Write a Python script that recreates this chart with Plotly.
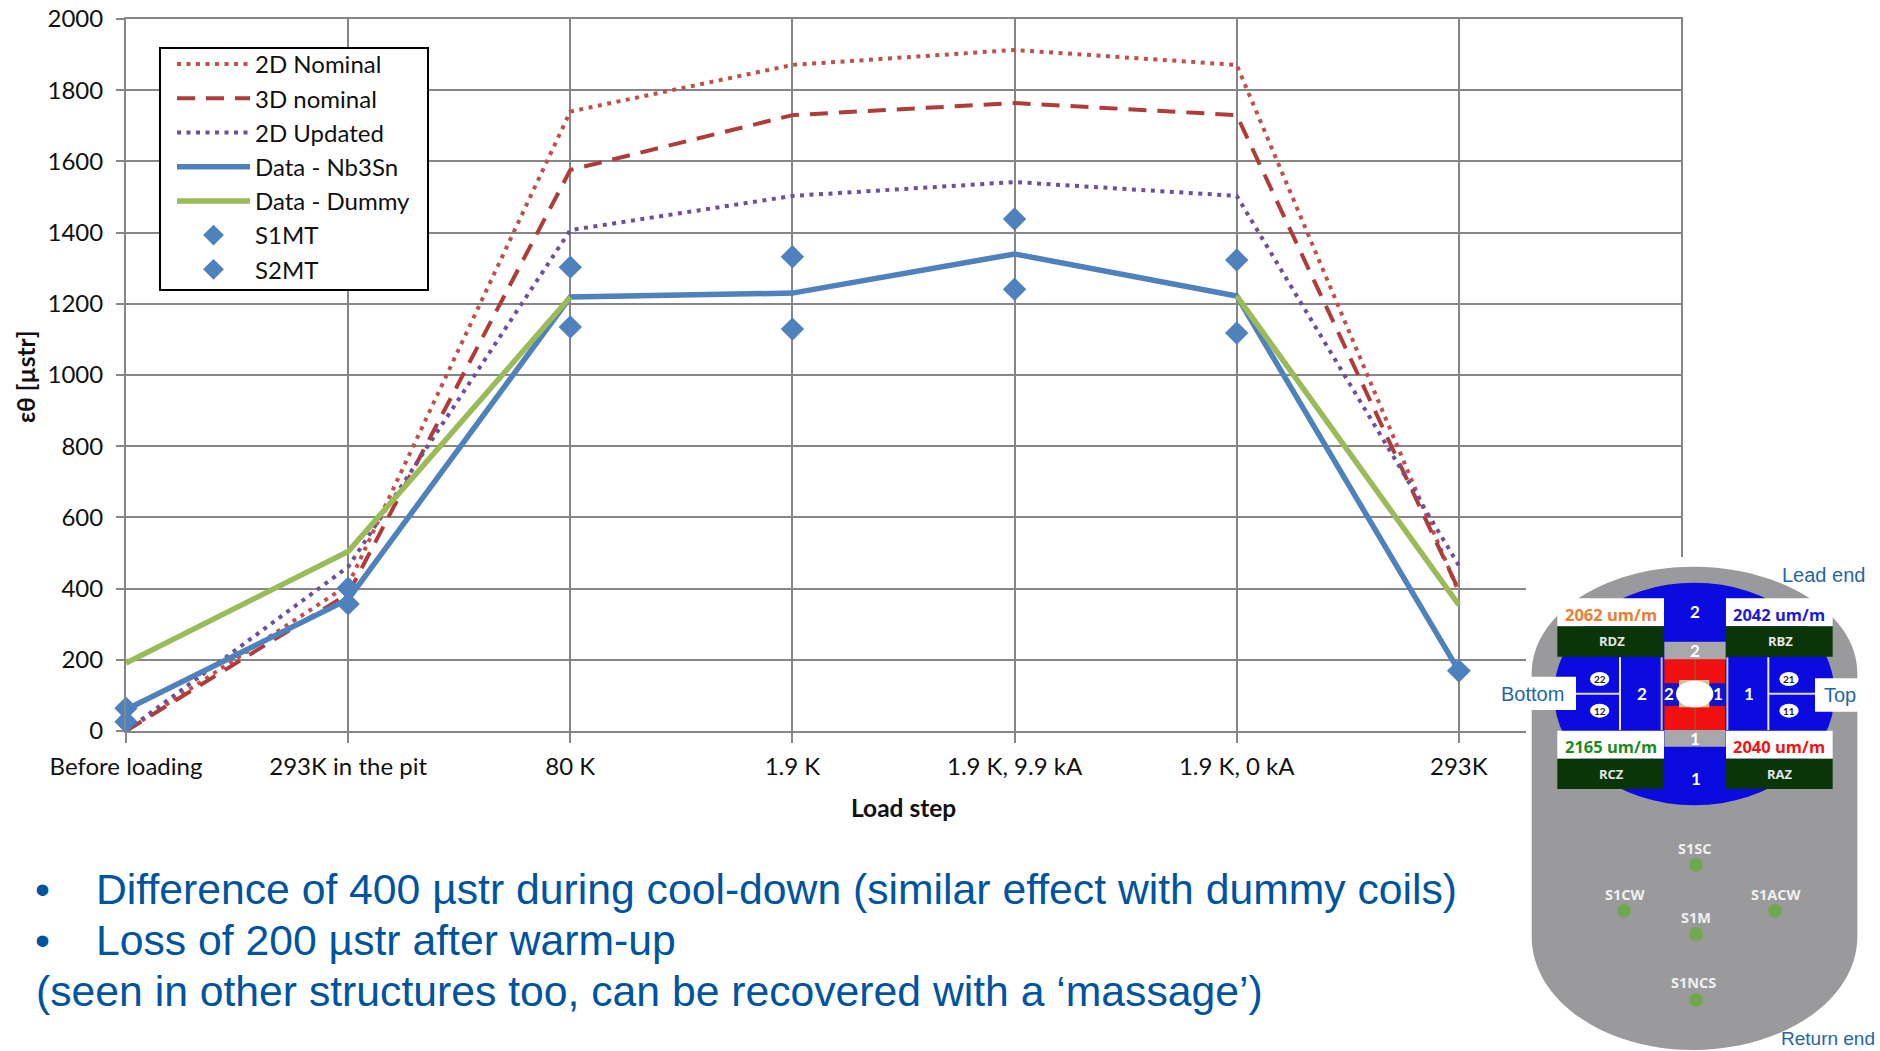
import plotly.graph_objects as go

# ---------- data ----------
load_steps = ["Before loading", "293K in the pit", "80 K", "1.9 K", "1.9 K, 9.9 kA", "1.9 K, 0 kA", "293K"]
step_pos = [0, 1, 2, 3, 4, 5, 6]
y_ticks = [0, 200, 400, 600, 800, 1000, 1200, 1400, 1600, 1800, 2000]

nominal_2d = [0, 410, 1740, 1871, 1913, 1871, 390]
nominal_3d = [0, 385, 1576, 1730, 1764, 1730, 395]
updated_2d = [0, 461, 1407, 1503, 1542, 1503, 465]
data_nb3sn = [60, 370, 1219, 1230, 1340, 1222, 169]
data_dummy = [191, 504, 1219, None, None, 1222, 354]
s1mt = [64, 401, 1303, 1332, 1438, 1323, 169]
s2mt = [26, 357, 1135, 1129, 1241, 1118, 169]

strain_labels = [("2062 um/m", "#ed7d31", "RDZ"), ("2042 um/m", "#1c1cd8", "RBZ"),
                 ("2165 um/m", "#1d8a1d", "RCZ"), ("2040 um/m", "#ee1515", "RAZ")]
gauges = ["S1SC", "S1CW", "S1ACW", "S1M", "S1NCS"]

bullets = ["Difference of 400 µstr during cool-down (similar effect with dummy coils)",
           "Loss of 200 µstr after warm-up"]
note = "(seen in other structures too, can be recovered with a ‘massage’)"

# ---------- layout helpers ----------
W, H = 1880, 1051
L, R, T, B = 126, 1681, 19, 731
FONT = "Lato"
ARIAL = "Liberation Sans"
BLUE_TXT = "#00549f"
GRID = "#868686"
INK = "#111111"

def X(px): return (px - L) / (R - L)
def Y(py): return (B - py) / (B - T)
# inset crop coordinates -> page pixels
def ix(v): return 1480 + v / 3
def iy(v): return 550 + v / 3

shapes, annots = [], []

def rect(x0, y0, x1, y1, color, line=None):
    shapes.append(dict(type="rect", xref="paper", yref="paper", layer="above",
                       x0=X(ix(x0)), x1=X(ix(x1)), y0=Y(iy(y0)), y1=Y(iy(y1)),
                       fillcolor=color, line=dict(width=0) if line is None else line))

def oval(x0, y0, x1, y1, color):
    shapes.append(dict(type="circle", xref="paper", yref="paper", layer="above",
                       x0=X(ix(x0)), x1=X(ix(x1)), y0=Y(iy(y0)), y1=Y(iy(y1)),
                       fillcolor=color, line=dict(width=0)))

def text(x, y, s, size, color, bold=False, family=FONT, anchor="center", **kw):
    annots.append(dict(xref="paper", yref="paper", x=X(x), y=Y(y), text=f"<b>{s}</b>" if bold else s,
                       showarrow=False, xanchor=anchor, yanchor="middle",
                       font=dict(size=size, color=color, family=family), **kw))

def itext(x, y, s, size, color, bold=False, family=FONT, anchor="center"):
    text(ix(x), iy(y), s, size, color, bold, family, anchor)

def P(x, y): return f"{X(ix(x)):.5f},{Y(iy(y)):.5f}"

# legend frame (the legend itself sits on top, transparent)
shapes.append(dict(type="rect", xref="paper", yref="paper", layer="above",
                   x0=X(160), x1=X(428), y0=Y(290), y1=Y(48),
                   fillcolor="white", line=dict(color="black", width=2)))
# white mask hiding the gridlines behind the inset
shapes.append(dict(type="rect", xref="paper", yref="paper", layer="above",
                   x0=X(1526), x1=X(1880), y0=Y(1051), y1=Y(557),
                   fillcolor="white", line=dict(width=0)))
# grey body
path = ("M " + P(155, 1160) + " L " + P(155, 370) +
        " C " + P(155, 194) + " " + P(370, 50) + " " + P(640, 50) +
        " C " + P(910, 50) + " " + P(1132, 194) + " " + P(1132, 370) +
        " L " + P(1132, 1160) +
        " C " + P(1132, 1348) + " " + P(910, 1500) + " " + P(640, 1500) +
        " C " + P(370, 1500) + " " + P(155, 1348) + " " + P(155, 1160) + " Z")
shapes.append(dict(type="path", xref="paper", yref="paper", layer="above", path=path,
                   fillcolor="#9a9a9c", line=dict(width=0)))
# blue yoke
oval(222, 98, 1064, 766, "#0b0be0")
# central grey bands, red pole and bore
rect(553, 275, 737, 330, "#a8a8aa")
rect(553, 540, 737, 590, "#a8a8aa")
rect(553, 328, 735, 540, "#f01010")
rect(553, 400, 735, 468, "#1414c8")
rect(643, 330, 647, 540, "#b05030")
rect(597, 390, 688, 472, "#cfc296")
oval(588, 392, 700, 472, "white")
# white separators in the yoke
for xs in (420, 545, 742, 865):
    rect(xs - 3, 322, xs + 3, 540, "#e8e8f4" if xs in (420, 865) else "#c8c8d8")
rect(222, 428, 420, 434, "#d8d8ec")
rect(865, 428, 1064, 434, "#d8d8ec")
# small gauge ovals
for cx, cy, lab in [(359, 387, "22"), (359, 482, "12"), (927, 387, "21"), (927, 482, "11")]:
    oval(cx - 29, cy - 21, cx + 29, cy + 21, "white")
    itext(cx, cy, lab, 10, "#222222", True)
for xs, lab in [(486, "2"), (806, "1")]:
    itext(xs, 431, lab, 17, "white", True)
for xs, ys, lab in [(645, 185, "2"), (645, 300, "2"), (645, 565, "1"), (647, 685, "1"),
                    (568, 431, "2"), (714, 431, "1")]:
    itext(xs, ys, lab, 17, "white", True)
# strain gauge cards
cards = [(232, 145), (738, 145), (232, 542), (738, 542)]
for (cx, cy), (val, col, lab) in zip(cards, strain_labels):
    rect(cx, cy, cx + 320, cy + 84, "white")
    rect(cx, cy + 84, cx + 320, cy + 175, "#0a3508")
    itext(cx + 160, cy + 48, val, 16.5, col, True, "Open Sans")
    itext(cx + 163, cy + 129, lab, 13, "#e6e6e6", True, "Open Sans")
# side label boxes
rect(40, 380, 288, 480, "white")
rect(1005, 385, 1155, 485, "white")
itext(157, 431, "Bottom", 20, "#1f66a8", family=ARIAL)
itext(1081, 436, "Top", 20, "#1f66a8", family=ARIAL)
itext(1030, 76, "Lead end", 20, "#1f66a8", family=ARIAL)
itext(1044, 1465, "Return end", 19, "#1f66a8", family=ARIAL)
# strain gauges on the outer shell
gauge_xy = [(645, 897, 648, 945), (437, 1032, 432, 1082), (888, 1033, 885, 1082),
            (648, 1103, 648, 1152), (640, 1298, 648, 1350)]
for name, (tx, ty, dx, dy) in zip(gauges, gauge_xy):
    itext(tx, ty, name, 14.5, "#f0f0f0", True, "Open Sans")
    oval(dx - 21, dy - 21, dx + 21, dy + 21, "#6fa84f")

# bullet text
for py, s in zip((889, 940), bullets):
    text(42, py, "•", 42.7, BLUE_TXT, family=ARIAL)
    text(94, py, s, 42.7, BLUE_TXT, family=ARIAL, anchor="left")
text(34, 991, note, 42.7, BLUE_TXT, family=ARIAL, anchor="left")

# axis titles
text(903, 807, "Load step", 24.5, INK, True)
text(25, 377, "εθ [µstr]", 24.5, INK, True, textangle=-90)

# ---------- traces ----------
fig = go.Figure()
def line_trace(name, y, color, dash, width):
    fig.add_trace(go.Scatter(x=step_pos, y=y, name=name, mode="lines", legendgroup=name, cliponaxis=False,
                             line=dict(color=color, width=width, dash=dash)))
def marker_trace(name, y):
    fig.add_trace(go.Scatter(x=step_pos, y=y, name=name, mode="markers", legendgroup=name, cliponaxis=False,
                             marker=dict(symbol="diamond", size=18, color="#4f81bd")))

line_trace("2D Nominal", nominal_2d, "#c0504d", "4px,5.5px", 4)
line_trace("3D nominal", nominal_3d, "#b03c3a", "18px,11px", 4)
line_trace("2D Updated", updated_2d, "#6f4f98", "4px,5.5px", 4)
line_trace("Data - Nb3Sn", data_nb3sn, "#4f81bd", None, 5.5)
line_trace("Data - Dummy", data_dummy, "#9bbb59", None, 5.5)
marker_trace("S1MT", s1mt)
marker_trace("S2MT", s2mt)

fig.update_layout(
    width=W, height=H, paper_bgcolor="white", plot_bgcolor="white",
    margin=dict(l=L, r=W - R, t=T, b=H - B, pad=0, autoexpand=False),
    font=dict(family=FONT, size=24, color=INK),
    shapes=shapes, annotations=annots,
    legend=dict(x=X(172), y=Y(42), xanchor="left", yanchor="top",
                bgcolor="rgba(0,0,0,0)", borderwidth=0,
                font=dict(size=24, family=FONT, color=INK),
                itemwidth=73, entrywidth=170, entrywidthmode="pixels",
                tracegroupgap=0, itemclick=False),
    xaxis=dict(range=[0, 7], tickmode="array", tickvals=step_pos + [7], ticktext=load_steps + [""],
               showgrid=True, gridcolor=GRID, gridwidth=2, zeroline=False, automargin=False,
               showline=True, linecolor=GRID, linewidth=2, mirror=True,
               ticks="outside", ticklen=10, tickcolor=GRID, tickwidth=2,
               tickfont=dict(size=24, family=FONT, color=INK), ticklabelstandoff=3),
    yaxis=dict(range=[0, 2000], tickmode="array", tickvals=y_ticks,
               showgrid=True, gridcolor=GRID, gridwidth=2, zeroline=False, automargin=False,
               showline=True, linecolor=GRID, linewidth=2, mirror=True,
               ticks="outside", ticklen=8, tickcolor=GRID, tickwidth=2,
               tickfont=dict(size=24, family=FONT, color=INK), ticklabelstandoff=8),
)

fig.write_html("out.html", config=dict(displayModeBar=False),
               post_script="document.body.style.margin='0';document.body.style.overflow='hidden';")
